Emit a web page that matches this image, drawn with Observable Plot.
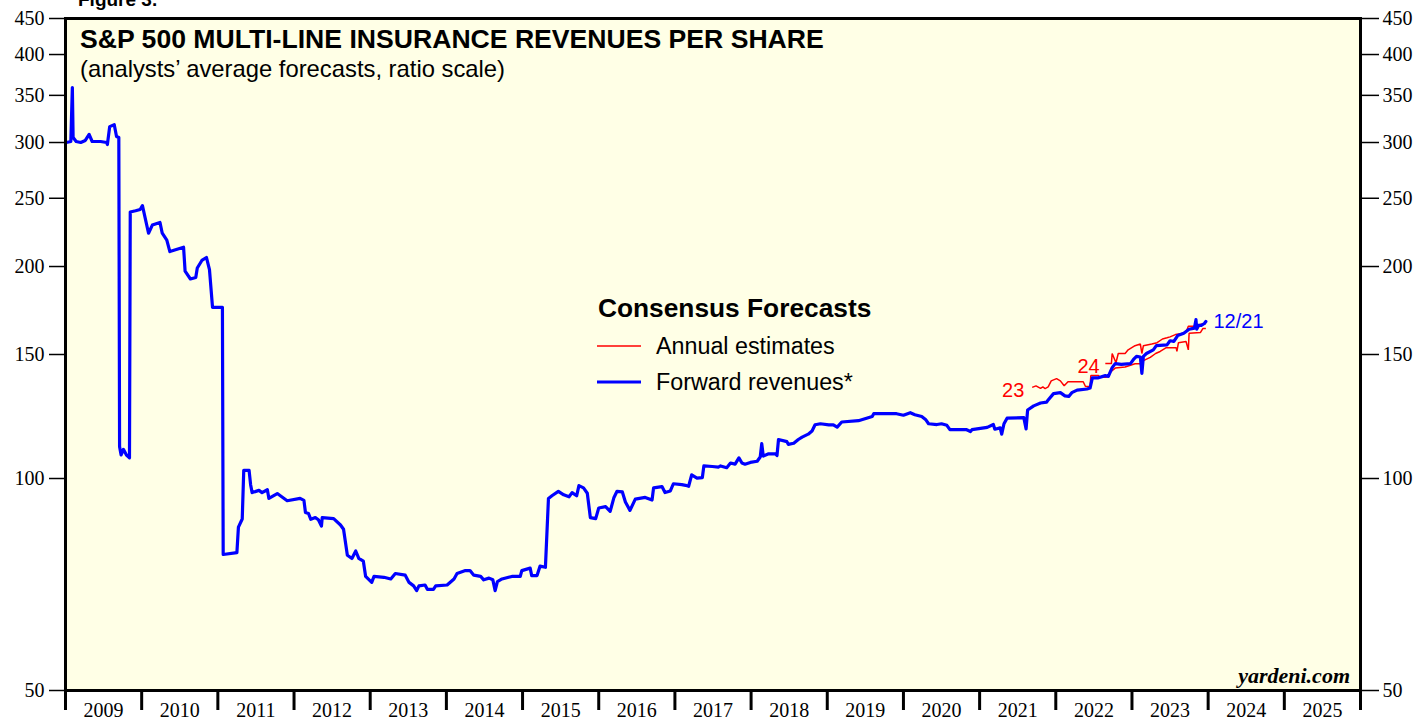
<!DOCTYPE html>
<html><head><meta charset="utf-8">
<script src="https://cdn.jsdelivr.net/npm/d3@7"></script>
<script src="https://cdn.jsdelivr.net/npm/@observablehq/plot@0.6"></script>
<style>body{margin:0;background:#fff} svg{display:block}</style>
</head><body><div id="chart"></div><script>
// ---- data (decimal years) ----
const years = d3.range(2009, 2027);
const yTicks = [50, 100, 150, 200, 250, 300, 350, 400, 450];

const fwdT = [2009.01,2009.07,2009.09,2009.10,2009.14,2009.20,2009.26,2009.31,2009.35,2009.46,2009.54,2009.55,2009.58,2009.64,2009.67,2009.70,
2009.71,2009.73,2009.76,2009.80,2009.84,2009.85,2009.92,2009.98,2010.01,2010.09,2010.14,2010.24,2010.27,2010.33,2010.37,2010.55,2010.57,
2010.64,2010.71,2010.73,2010.79,2010.85,2010.89,2010.93,2011.06,2011.07,2011.25,2011.27,2011.32,2011.34,2011.41,2011.43,2011.45,2011.54,
2011.58,2011.65,2011.67,2011.78,2011.91,2012.08,2012.13,2012.15,2012.19,2012.22,2012.28,2012.32,2012.36,2012.37,2012.52,2012.61,2012.65,
2012.70,2012.76,2012.81,2012.85,2012.91,2012.94,2013.02,2013.05,2013.18,2013.27,2013.33,2013.46,2013.51,2013.57,2013.61,2013.64,2013.72,
2013.75,2013.83,2013.86,2014.01,2014.10,2014.14,2014.25,2014.31,2014.36,2014.45,2014.49,2014.56,2014.61,2014.64,2014.67,2014.73,2014.86,
2014.97,2014.99,2015.10,2015.12,2015.19,2015.23,2015.30,2015.34,2015.39,2015.47,2015.54,2015.61,2015.65,2015.71,2015.74,2015.80,2015.85,
2015.89,2015.96,2016.00,2016.09,2016.15,2016.20,2016.24,2016.31,2016.35,2016.41,2016.48,2016.61,2016.70,2016.72,2016.83,2016.87,2016.94,
2016.98,2017.09,2017.14,2017.18,2017.22,2017.29,2017.36,2017.38,2017.49,2017.57,2017.60,2017.68,2017.73,2017.79,2017.84,2017.88,2017.92,
2017.99,2018.08,2018.12,2018.14,2018.16,2018.23,2018.32,2018.34,2018.36,2018.47,2018.49,2018.56,2018.62,2018.67,2018.75,2018.80,2018.84,
2018.91,2019.02,2019.08,2019.13,2019.19,2019.41,2019.59,2019.61,2019.91,2020.00,2020.09,2020.15,2020.24,2020.29,2020.33,2020.44,2020.50,
2020.57,2020.61,2020.83,2020.88,2020.90,2021.10,2021.18,2021.20,2021.27,2021.29,2021.32,2021.36,2021.58,2021.61,2021.63,2021.71,2021.80,
2021.88,2021.90,2021.97,2022.06,2022.12,2022.17,2022.21,2022.28,2022.41,2022.45,2022.48,2022.56,2022.65,2022.69,2022.74,2022.78,2022.86,
2022.98,2023.02,2023.06,2023.11,2023.13,2023.15,2023.19,2023.28,2023.32,2023.46,2023.50,2023.55,2023.60,2023.68,2023.75,2023.82,2023.84,
2023.85,2023.87,2023.91,2023.95,2023.97];
const fwdV = [300,301,359,305,301,300,302,308,301,301,300,298,316,318,306,305,
111,108,110,108,107,239,240,241,244,223,229,231,223,218,210,213,197,
192,193,199,204,206,198,175,175,78,78.5,85.3,87.6,102.7,102.7,98,95.5,96.2,
95.5,96.4,93.7,95.2,93.0,93.7,93.1,89.5,89.2,87.5,88.0,87.4,85.6,88.0,87.7,85.9,84.7,
77.8,77.0,78.9,77.0,76.3,72.6,71.2,72.6,72.4,72.0,73.3,72.9,71.2,70.4,69.3,70.4,70.6,
69.6,69.6,70.4,70.6,72.0,73.3,74.0,74.0,72.9,72.6,71.8,72.2,71.8,69.3,71.4,72.0,72.6,
72.6,74.0,74.6,72.8,72.8,75.1,74.8,93.7,94.6,95.9,94.8,94.2,95.5,94.5,97.7,97.0,95.3,
88.0,87.7,90.8,91.2,89.8,94.0,95.9,95.7,92.6,90.1,93.5,94.0,93.2,97.0,97.4,95.5,96.0,
98.3,98.0,97.8,97.5,101.2,100.1,100.3,104.2,104.0,103.8,104.2,103.6,105.2,104.8,107.0,105.2,104.8,
105.4,105.8,107.3,112.1,107.6,108.4,108.4,107.8,113.6,112.8,111.8,112.2,113.6,114.5,115.6,116.8,119.2,
119.6,119.2,119.2,118.3,120.3,120.8,122.5,123.6,123.6,123.0,124.0,123.2,122.5,121.3,119.6,119.3,119.6,
119.0,117.3,117.3,116.6,117.3,118.2,119.3,117.5,118.0,115.6,119.6,121.8,122.0,117.6,125.1,126.8,128.0,
128.4,129.3,132.0,132.4,131.0,130.8,132.4,133.5,134.0,134.4,139.0,139.0,140.0,139.6,143.7,145.6,145.2,
145.6,147.6,149.1,148.8,141.0,149.1,150.5,152.3,154.4,154.8,156.9,156.6,159.6,160.8,162.9,163.5,168.1,
163.0,165.0,165.0,166.0,167.1];

const est23T = [2021.69,2021.74,2021.80,2021.83,2021.86,2021.90,2021.94,2022.01,2022.06,2022.11,2022.16,2022.36,2022.39,2022.45,2022.46,
2022.56,2022.58,2022.66,2022.71,2022.78,2022.91,2023.04,2023.12,2023.13,2023.15,2023.24,2023.31,2023.37,2023.45,2023.58,2023.59,2023.61,
2023.71,2023.74,2023.75,2023.90,2023.93,2023.97];
const est23V = [134.7,135.4,134.3,134.9,134.2,134.9,137.6,138.6,137.6,135.4,137.2,137.2,135.1,135.1,140.0,
140.0,139.2,139.2,141.5,143.5,144.0,145.5,145.5,141.0,147.0,148.6,150.5,151.5,153.4,153.4,151.5,155.9,
156.5,152.3,160.8,161.2,163.3,163.3];

const est24T = [2022.65,2022.73,2022.74,2022.79,2022.82,2022.91,2022.95,2023.04,2023.11,2023.13,2023.15,2023.26,2023.33,2023.40,2023.46,
2023.50,2023.57,2023.66,2023.71,2023.74,2023.83,2023.87,2023.89,2023.97];
const est24V = [145.6,145.6,150.5,146.0,150.5,150.5,152.3,154.4,155.2,150.5,154.4,155.2,155.9,157.8,158.4,
158.9,160.1,160.6,161.5,164.5,164.5,163.5,165.5,166.0];

const estLabels = [
  {t: 2021.44, v: 133.3, text: "23"},
  {t: 2022.43, v: 144.2, text: "24"}
];
const lastLabel = [{t: 2024.07, v: 167.1, text: "12/21"}];

const legendItems = [
  {label: "Annual estimates", color: "#ff0000", width: 1.5},
  {label: "Forward revenues*", color: "#0000ff", width: 3}
];

const toRows = (T, V) => T.map((t, i) => ({t, v: V[i]}));
const fwd = toRows(fwdT, fwdV);
const e23 = toRows(est23T, est23V);
const e24 = toRows(est24T, est24V);

const SANS = "Liberation Sans, Arial, sans-serif";
const SERIF = "Liberation Serif, Times New Roman, serif";

const chart = Plot.plot({
  width: 1416, height: 721,
  marginLeft: 65, marginRight: 56, marginTop: 18, marginBottom: 31,
  style: {fontFamily: SERIF, fontSize: "20px", color: "black", background: "white", overflow: "visible"},
  x: {domain: [2009, 2026], label: null},
  y: {type: "log", domain: [50, 450], label: null},
  marks: [
    Plot.frame({fill: "#ffffe6", stroke: null}),
    Plot.axisY({anchor: "left", ticks: yTicks, tickSize: 16, tickPadding: 5, tickFormat: d => String(d), label: null, strokeWidth: 1.5, fontFamily: SERIF, fontSize: 20}),
    Plot.axisY({anchor: "right", ticks: yTicks, tickSize: 18, tickPadding: 4, tickFormat: d => String(d), label: null, strokeWidth: 1.5, fontFamily: SERIF, fontSize: 20}),
    Plot.axisX({ticks: years, tickSize: 20, tickFormat: () => "", label: null, strokeWidth: 3}),
    Plot.axisX({ticks: years.slice(0, -1).map(y => y + 0.5), tickSize: 0, tickPadding: 12, tickFormat: d => String(Math.floor(d)), label: null, fontFamily: SERIF, fontSize: 20}),
    Plot.line(e23, {x: "t", y: "v", stroke: "#ff0000", strokeWidth: 1.5, strokeLinejoin: "miter", strokeLinecap: "butt"}),
    Plot.line(e24, {x: "t", y: "v", stroke: "#ff0000", strokeWidth: 1.5, strokeLinejoin: "miter", strokeLinecap: "butt"}),
    Plot.line(fwd, {x: "t", y: "v", stroke: "#0000ff", strokeWidth: 3.2}),
    Plot.text(estLabels, {x: "t", y: "v", text: "text", fill: "#ff0000", textAnchor: "middle", fontFamily: SANS, fontSize: 20}),
    Plot.text(lastLabel, {x: "t", y: "v", text: "text", fill: "#0000ff", textAnchor: "start", fontFamily: SANS, fontSize: 20}),
    Plot.frame({stroke: "black", strokeWidth: 3})
  ]
});

// text annotations
const svg = d3.select(chart);
const addText = (x, y, txt, opts = {}) => svg.append("text")
  .attr("x", x).attr("y", y)
  .attr("font-family", opts.family || SANS)
  .attr("font-size", opts.size || 20)
  .attr("font-weight", opts.weight || "normal")
  .attr("font-style", opts.style || "normal")
  .attr("text-anchor", opts.anchor || "start")
  .attr("fill", opts.fill || "black")
  .text(txt);

addText(78, 6, "Figure 3.", {weight: "bold", size: 19});
addText(80, 48, "S&P 500 MULTI-LINE INSURANCE REVENUES PER SHARE", {weight: "bold", size: 26.6});
addText(80, 77, "(analysts\u2019 average forecasts, ratio scale)", {size: 23.8});
addText(598, 317, "Consensus Forecasts", {weight: "bold", size: 26.3});
legendItems.forEach((d, i) => {
  const y = 346 + i * 36;
  svg.append("line").attr("x1", 597).attr("x2", 641).attr("y1", y).attr("y2", y)
    .attr("stroke", d.color).attr("stroke-width", d.width);
  addText(656, y + 8, d.label, {size: 23.3});
});
addText(1350, 683, "yardeni.com", {family: SERIF, weight: "bold", style: "italic", size: 22, anchor: "end"});

document.getElementById("chart").appendChild(chart);
</script></body></html>
